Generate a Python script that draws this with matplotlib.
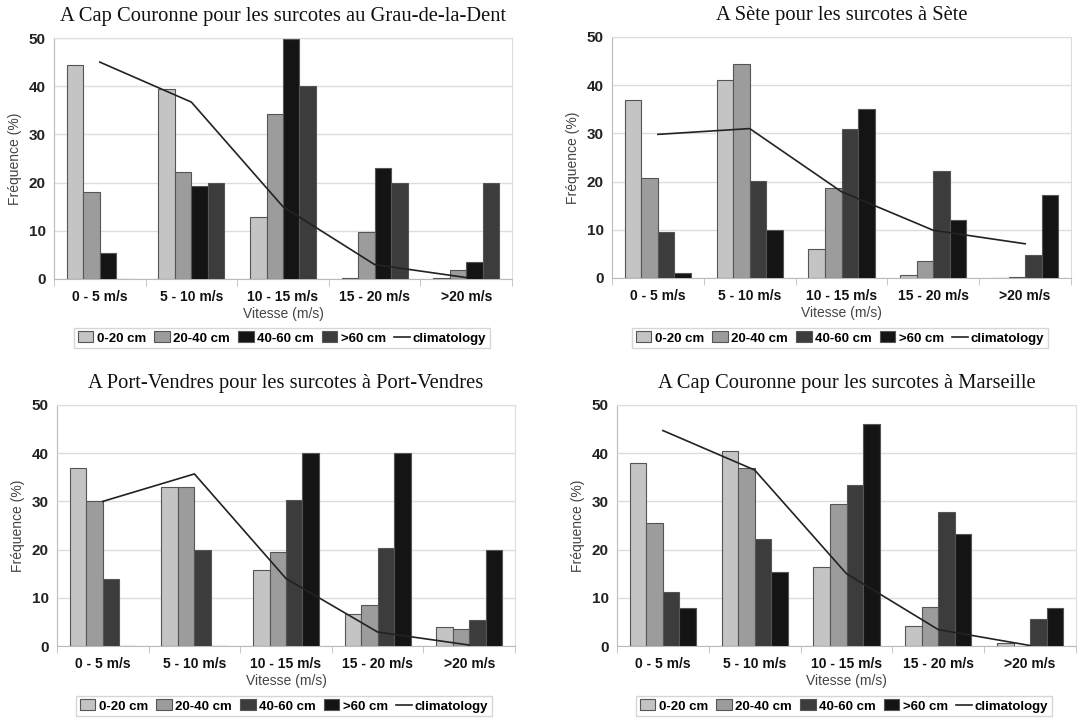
import matplotlib
matplotlib.use("Agg")
import matplotlib.pyplot as plt
from matplotlib.patches import Patch
from matplotlib.lines import Line2D
import numpy as np

categories = ["0 - 5 m/s", "5 - 10 m/s", "10 - 15 m/s", "15 - 20 m/s", ">20 m/s"]
classes = ["0-20 cm", "20-40 cm", "40-60 cm", ">60 cm"]
yticks = [0, 10, 20, 30, 40, 50]

titles = [
    "A Cap Couronne pour les surcotes au Grau-de-la-Dent",
    "A Sète pour les surcotes à Sète",
    "A Port-Vendres pour les surcotes à Port-Vendres",
    "A Cap Couronne pour les surcotes à Marseille",
]

# Panel 1: Grau-de-la-Dent
grau_0_20 = [44.5, 39.5, 12.8, 0.2, 0.2]
grau_20_40 = [18.0, 22.2, 34.2, 9.7, 1.8]
grau_40_60 = [5.3, 19.2, 49.7, 23.0, 3.5]
grau_60 = [0.0, 20.0, 40.0, 20.0, 20.0]
grau_clim = [45.0, 36.7, 15.0, 3.0, 0.3]

# Panel 2: Sète
sete_0_20 = [37.0, 41.0, 6.0, 0.6, 0.1]
sete_20_40 = [20.8, 44.3, 18.6, 3.5, 0.3]
sete_40_60 = [9.5, 20.2, 31.0, 22.3, 4.7]
sete_60 = [1.0, 10.0, 35.0, 12.0, 17.3]
sete_clim = [29.8, 31.0, 17.9, 9.9, 7.1]

# Panel 3: Port-Vendres
pv_0_20 = [37.0, 33.0, 15.8, 6.7, 3.9]
pv_20_40 = [30.0, 33.0, 19.6, 8.6, 3.6]
pv_40_60 = [14.0, 20.0, 30.3, 20.3, 5.3]
pv_60 = [0.0, 0.0, 40.0, 40.0, 20.0]
pv_clim = [30.0, 35.7, 14.0, 2.9, 0.2]

# Panel 4: Marseille
mar_0_20 = [38.0, 40.5, 16.4, 4.1, 0.7]
mar_20_40 = [25.5, 37.0, 29.4, 8.0, 0.0]
mar_40_60 = [11.1, 22.3, 33.4, 27.8, 5.6]
mar_60 = [7.8, 15.3, 46.0, 23.2, 7.8]
mar_clim = [44.7, 36.5, 15.0, 3.4, 0.1]

LIGHT = "#c4c4c4"
MID = "#9c9c9c"
DARK = "#3c3c3c"
BLACK = "#141414"

panels = [
    dict(series=[grau_0_20, grau_20_40, grau_40_60, grau_60], clim=grau_clim,
         colors=[LIGHT, MID, BLACK, DARK], box=(54, 512, 38, 279), leg=(282, 338)),
    dict(series=[sete_0_20, sete_20_40, sete_40_60, sete_60], clim=sete_clim,
         colors=[LIGHT, MID, DARK, BLACK], box=(612, 1071, 37, 278), leg=(840, 338)),
    dict(series=[pv_0_20, pv_20_40, pv_40_60, pv_60], clim=pv_clim,
         colors=[LIGHT, MID, DARK, BLACK], box=(57, 515, 405, 646), leg=(284, 706)),
    dict(series=[mar_0_20, mar_20_40, mar_40_60, mar_60], clim=mar_clim,
         colors=[LIGHT, MID, DARK, BLACK], box=(617, 1076, 405, 646), leg=(844, 706)),
]

W, H = 1088, 718
fig = plt.figure(figsize=(W / 100, H / 100), dpi=100)
fig.patch.set_facecolor("white")

SANS = ["Liberation Sans", "DejaVu Sans"]
SERIF = ["Liberation Serif", "DejaVu Serif"]

x = np.arange(len(categories))
bw = 0.18
offsets = [-1.5 * bw, -0.5 * bw, 0.5 * bw, 1.5 * bw]

for p, title in zip(panels, titles):
    l, r, t, b = p["box"]
    ax = fig.add_axes([l / W, 1 - b / H, (r - l) / W, (b - t) / H])
    for vals, col, off in zip(p["series"], p["colors"], offsets):
        ax.bar(x + off, vals, width=bw, color=col, edgecolor="#555555", linewidth=0.8, zorder=3)
    ax.plot(x, p["clim"], color="#222222", linewidth=1.2, zorder=4)
    ax.set_xlim(-0.5, 4.5)
    ax.set_ylim(0, 50)
    ax.set_yticks(yticks)
    ax.set_yticklabels([str(v) for v in yticks], fontfamily=SANS, fontweight="bold",
                       fontsize=11, color="#222222")
    ax.set_xticks(x)
    ax.set_xticklabels(categories, fontfamily=SANS, fontweight="bold", fontsize=10, color="#111111")
    ax.tick_params(axis="x", length=0, pad=8)
    ax.tick_params(axis="y", length=0, pad=6)
    # category boundary ticks
    ax.set_xticks(np.arange(-0.5, 5.0, 1.0), minor=True)
    ax.tick_params(axis="x", which="minor", length=5, color="#bbbbbb", direction="out")
    ax.grid(axis="y", color="#dddddd", linewidth=1.0, zorder=0)
    for s in ["top", "right"]:
        ax.spines[s].set_color("#dddddd")
    for s in ["left", "bottom"]:
        ax.spines[s].set_color("#bbbbbb")
    ax.set_ylabel("Fréquence (%)", fontfamily=SANS, fontsize=10, color="#444444", labelpad=5)
    ax.set_xlabel("Vitesse (m/s)", fontfamily=SANS, fontsize=10, color="#444444", labelpad=2)
    ax.set_title(title, fontfamily=SERIF, fontsize=14.8, color="#111111", pad=12)

    handles = [Patch(facecolor=c, edgecolor="#555555", linewidth=0.8) for c in p["colors"]]
    handles.append(Line2D([0], [0], color="#222222", linewidth=1.2))
    labels = classes + ["climatology"]
    lx, ly = p["leg"]
    leg = fig.legend(handles, labels, loc="center", bbox_to_anchor=(lx / W, 1 - ly / H),
                     ncol=5, frameon=True, fancybox=False, handlelength=1.2, handleheight=0.9,
                     handletextpad=0.25, columnspacing=0.6, borderpad=0.25,
                     prop=dict(family=SANS, weight="bold", size=9.5))
    leg.get_frame().set_edgecolor("#cccccc")
    leg.get_frame().set_linewidth(1.0)

fig.savefig("out.png", dpi=100, facecolor="white")
